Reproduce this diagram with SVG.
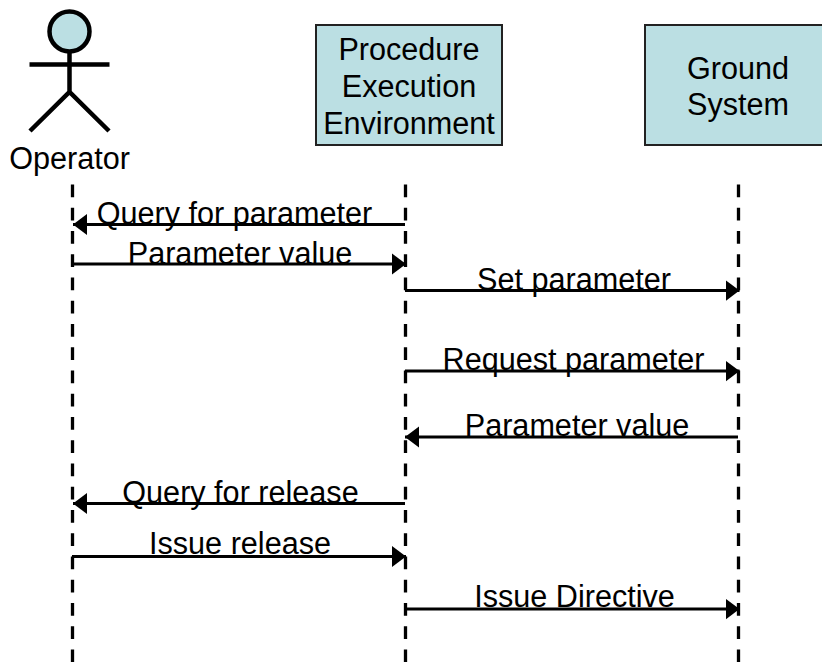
<svg xmlns="http://www.w3.org/2000/svg" width="822" height="662" viewBox="0 0 822 662">
<defs>
<marker id="arr" markerUnits="userSpaceOnUse" markerWidth="14" markerHeight="22" refX="14" refY="11" orient="auto-start-reverse"><path d="M0 0.500L14 11L0 21.500Z" fill="#000"/></marker>
</defs>
<style>
text{font-family:"Liberation Sans",Arial,sans-serif;fill:#000;text-anchor:middle;font-size:30.600px}
.box{fill:#bbdfe3;stroke:#222;stroke-width:2}
.life{stroke:#000;stroke-width:3.300;stroke-dasharray:12.750 10.500;fill:none}
.msg{stroke:#000;stroke-width:3;fill:none;marker-end:url(#arr)}
.fig{stroke:#000;stroke-width:4.500;fill:none}
</style>
<rect width="822" height="662" fill="#fff"/>
<g id="operator">
<circle cx="69.500" cy="31.500" r="20" fill="#bbdfe3" stroke="#000" stroke-width="4.500"/>
<path class="fig" d="M69.500 52V92M29.500 64.500H109.500M30 131L69.500 92L109 131"/>
<text x="69.500" y="169">Operator</text>
</g>
<g id="pee">
<rect class="box" x="316" y="25" width="186" height="120"/>
<text x="409" y="60">Procedure</text>
<text x="409" y="97">Execution</text>
<text x="409" y="134">Environment</text>
</g>
<g id="ground">
<rect class="box" x="645" y="25" width="186" height="120"/>
<text x="738" y="79">Ground</text>
<text x="738" y="115">System</text>
</g>
<g id="connectors">
<path class="life" d="M72.500 184.500V662"/>
<path class="life" d="M405.500 184.500V662"/>
<path class="life" d="M738.500 184.500V662"/>
<path class="msg" d="M405 224.500H73"/>
<path class="msg" d="M72 264H406"/>
<path class="msg" d="M405 290.500H739.500"/>
<path class="msg" d="M405 371H739.500"/>
<path class="msg" d="M738 437H405"/>
<path class="msg" d="M405 503.500H73"/>
<path class="msg" d="M72 556.500H406"/>
<path class="msg" d="M405 609H739.500"/>
</g>
<g id="labels">
<text x="234.500" y="223.500">Query for parameter</text>
<text x="240" y="263.500">Parameter value</text>
<text x="574" y="289.500">Set parameter</text>
<text x="573.500" y="369.500">Request parameter</text>
<text x="577" y="435.500">Parameter value</text>
<text x="240.500" y="502.500">Query for release</text>
<text x="240" y="553.500">Issue release</text>
<text x="574.500" y="607">Issue Directive</text>
</g>
</svg>
